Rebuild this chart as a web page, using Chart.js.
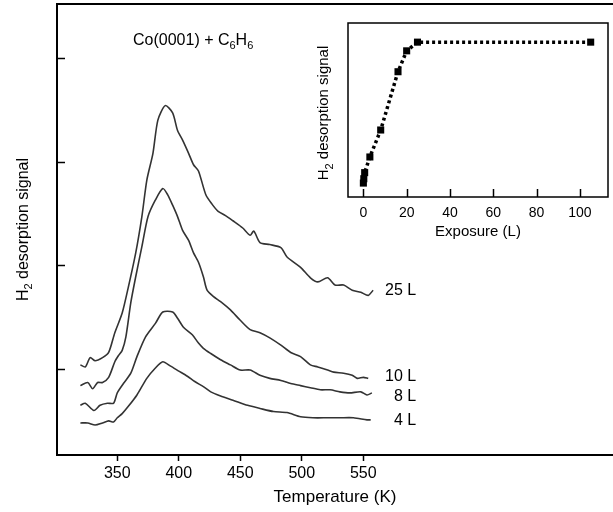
<!DOCTYPE html>
<html>
<head>
<meta charset="utf-8">
<script src="https://cdn.jsdelivr.net/npm/chart.js@4.4.1/dist/chart.umd.min.js"></script>
<style>
body{margin:0;background:#fff}
#wrap{position:relative;width:613px;height:512px}
#main{position:absolute;left:0;top:0}
#inset{position:absolute;left:300px;top:0}
</style>
</head>
<body>
<div id="wrap">
<canvas id="main" width="613" height="512"></canvas>
<canvas id="inset" width="313" height="245"></canvas>
</div>
<script>
// DATA

const runs = ['25 L', '10 L', '8 L', '4 L'];

const temp25 = [320,324,328,332,338,343,348,354,359,365,370,374,379,383,389,395,399,403,408,412,416,422,427,432,438,444,452,458,461,466,474,483,488,499,507,513,521,527,534,541,548,554,558];
const sig25 = [1.04,1.02,1.11,1.08,1.11,1.16,1.35,1.54,1.79,2.12,2.47,2.82,3.08,3.40,3.54,3.47,3.30,3.21,3.08,2.97,2.91,2.68,2.59,2.52,2.48,2.43,2.36,2.29,2.33,2.22,2.20,2.17,2.08,1.98,1.88,1.84,1.88,1.81,1.81,1.76,1.74,1.71,1.76];

const temp10 = [320,326,330,334,338,343,348,351,354,357,361,365,370,375,381,387,391,395,399,403,408,412,416,420,423,428,434,442,450,458,466,474,483,491,499,507,513,521,526,534,541,545,550,554];
const sig10 = [0.84,0.87,0.81,0.87,0.87,0.92,1.07,1.13,1.18,1.31,1.64,1.89,2.18,2.47,2.63,2.74,2.68,2.58,2.47,2.34,2.24,2.12,2.03,1.89,1.76,1.70,1.65,1.57,1.47,1.38,1.35,1.30,1.23,1.16,1.12,1.04,1.02,0.99,0.97,0.96,0.94,0.91,0.92,0.91];

const temp8 = [320,324,331,336,342,347,350,355,361,366,373,381,387,395,399,404,411,416,420,426,434,442,450,458,466,474,483,491,499,507,515,523,531,539,548,553,557];
const sig8 = [0.65,0.67,0.60,0.65,0.67,0.67,0.77,0.86,0.96,1.12,1.31,1.44,1.55,1.55,1.49,1.40,1.33,1.25,1.20,1.15,1.09,1.04,0.99,0.99,0.94,0.91,0.89,0.86,0.84,0.82,0.80,0.80,0.78,0.77,0.78,0.75,0.77];

const temp4 = [320,326,332,338,343,347,350,354,359,366,374,381,387,393,400,407,413,420,426,434,444,456,466,477,488,499,509,521,531,542,553,556];
const sig4 = [0.48,0.48,0.46,0.48,0.50,0.49,0.53,0.57,0.64,0.75,0.91,1.01,1.07,1.03,0.98,0.93,0.88,0.83,0.78,0.74,0.70,0.65,0.62,0.59,0.58,0.54,0.53,0.53,0.53,0.53,0.51,0.51];

const tempTicks = [350, 400, 450, 500, 550];
const signalTicks = [1, 2, 3, 4];

const exposure = [0, 0.2, 0.6, 3, 8, 16, 20, 25, 105];
const uptake = [8, 10.5, 14, 23, 38.5, 72, 84, 89, 89];
const exposureTicks = [0, 20, 40, 60, 80, 100];


// HELPERS

const FONT = "'Liberation Sans', Arial, Helvetica, sans-serif";
Chart.defaults.font.family = FONT;
Chart.defaults.color = '#000';

const yTitle = [['H'], ['2', 1], [' desorption signal']];

function pts(xs, ys){
    return xs.map((x, i) => ({x: x, y: ys[i]}));
}

function subWidth(ctx, parts, size){
    let w = 0;
    parts.forEach(p => {
        ctx.font = (p[1] ? Math.round(size * 0.7) : size) + 'px ' + FONT;
        w += ctx.measureText(p[0]).width;
    });
    return w;
}

function drawSub(ctx, parts, x, y, size){
    parts.forEach(p => {
        const sub = p[1];
        ctx.font = (sub ? Math.round(size * 0.7) : size) + 'px ' + FONT;
        ctx.fillText(p[0], x, y + (sub ? size * 0.28 : 0));
        x += ctx.measureText(p[0]).width;
    });
}

// texto vertical centrado
function drawVertical(ctx, parts, cx, cy, size){
    ctx.save();
    ctx.translate(cx, cy);
    ctx.rotate(-Math.PI / 2);
    ctx.textAlign = 'left';
    ctx.textBaseline = 'alphabetic';
    const w = subWidth(ctx, parts, size);
    drawSub(ctx, parts, -w / 2, size * 0.36, size);
    ctx.restore();
}


// GRAFICA PRINCIPAL

const labelShift = [0, -2, 4, 1];

const mainDecor = {
    id: 'mainDecor',
    afterDraw(chart){
        const {ctx, chartArea: a, scales} = chart;
        ctx.save();
        ctx.strokeStyle = '#000';
        ctx.lineWidth = 2;
        ctx.beginPath();
        ctx.moveTo(a.left - 1, a.top);
        ctx.lineTo(a.right, a.top);
        ctx.stroke();

        ctx.lineWidth = 1.5;
        signalTicks.forEach(v => {
            const y = Math.round(scales.y.getPixelForValue(v)) + 0.5;
            ctx.beginPath();
            ctx.moveTo(a.left, y);
            ctx.lineTo(a.left + 8, y);
            ctx.stroke();
        });

        ctx.fillStyle = '#000';
        ctx.textAlign = 'right';
        ctx.textBaseline = 'middle';
        ctx.font = '16px ' + FONT;
        const xr = scales.x.getPixelForValue(593);
        chart.data.datasets.forEach((ds, i) => {
            const last = ds.data[ds.data.length - 1];
            ctx.fillText(runs[i], xr, scales.y.getPixelForValue(last.y) + labelShift[i]);
        });

        ctx.textAlign = 'left';
        ctx.textBaseline = 'alphabetic';
        drawSub(ctx, [['Co(0001) + C'], ['6', 1], ['H'], ['6', 1]], 133, 44.5, 16);

        drawVertical(ctx, yTitle, 22, (a.top + a.bottom) / 2, 16);
        ctx.restore();
    }
};

new Chart(document.getElementById('main'), {
    type: 'line',
    data: {
        datasets: [
            {data: pts(temp25, sig25)},
            {data: pts(temp10, sig10)},
            {data: pts(temp8, sig8)},
            {data: pts(temp4, sig4)}
        ].map(d => Object.assign(d, {
            borderColor: '#333',
            borderWidth: 1.6,
            pointRadius: 0,
            tension: 0.25,
            fill: false
        }))
    },
    options: {
        responsive: false,
        animation: false,
        layout: {padding: {top: 4, right: 0, left: 0, bottom: 0}},
        plugins: {legend: {display: false}, tooltip: {enabled: false}},
        scales: {
            x: {
                type: 'linear',
                min: 301,
                max: 753,
                afterBuildTicks: s => { s.ticks = tempTicks.map(v => ({value: v})); },
                afterFit: s => { s.height = 57; },
                grid: {display: true, drawOnChartArea: false, drawTicks: true, tickLength: 6, tickWidth: 1.5, tickColor: '#000'},
                border: {display: true, color: '#000', width: 2},
                ticks: {font: {size: 16}, padding: 3, color: '#000', maxRotation: 0},
                title: {display: true, text: 'Temperature (K)', font: {size: 17}, padding: {top: 0, bottom: 4}}
            },
            y: {
                min: 0.171,
                max: 4.52,
                afterBuildTicks: s => { s.ticks = signalTicks.map(v => ({value: v})); },
                afterFit: s => { s.width = 57; },
                grid: {display: false},
                border: {display: true, color: '#000', width: 2},
                ticks: {display: false}
            }
        }
    },
    plugins: [mainDecor]
});


// INSERTO

const insetDecor = {
    id: 'insetDecor',
    afterDraw(chart){
        const {ctx, chartArea: a, scales} = chart;
        ctx.save();
        ctx.strokeStyle = '#000';
        ctx.lineWidth = 1.5;
        ctx.strokeRect(a.left, a.top, a.right - a.left, a.bottom - a.top);
        exposureTicks.forEach(v => {
            const x = Math.round(scales.x.getPixelForValue(v)) + 0.5;
            ctx.beginPath();
            ctx.moveTo(x, a.bottom);
            ctx.lineTo(x, a.bottom - 8);
            ctx.stroke();
        });
        ctx.fillStyle = '#000';
        drawVertical(ctx, yTitle, 23, (a.top + a.bottom) / 2 + 3, 15);
        ctx.restore();
    }
};

new Chart(document.getElementById('inset'), {
    type: 'line',
    data: {
        datasets: [{
            data: pts(exposure, uptake),
            borderColor: '#000',
            borderWidth: 3.5,
            borderDash: [3, 3],
            borderCapStyle: 'butt',
            pointStyle: 'rect',
            pointRadius: 5,
            pointBackgroundColor: '#000',
            pointBorderWidth: 0,
            tension: 0,
            fill: false
        }]
    },
    options: {
        responsive: false,
        animation: false,
        layout: {padding: {top: 23, right: 5, left: 0, bottom: 0}},
        plugins: {legend: {display: false}, tooltip: {enabled: false}},
        scales: {
            x: {
                type: 'linear',
                min: -7.1,
                max: 113,
                afterBuildTicks: s => { s.ticks = exposureTicks.map(v => ({value: v})); },
                afterFit: s => { s.height = 48; },
                grid: {display: false, drawTicks: false},
                border: {display: false},
                ticks: {font: {size: 14}, padding: 8, color: '#000', maxRotation: 0},
                title: {display: true, text: 'Exposure (L)', font: {size: 15}, padding: {top: 0, bottom: 4}}
            },
            y: {
                min: 0,
                max: 100,
                afterFit: s => { s.width = 48; },
                grid: {display: false},
                border: {display: false},
                ticks: {display: false}
            }
        }
    },
    plugins: [insetDecor]
});
</script>
</body>
</html>
